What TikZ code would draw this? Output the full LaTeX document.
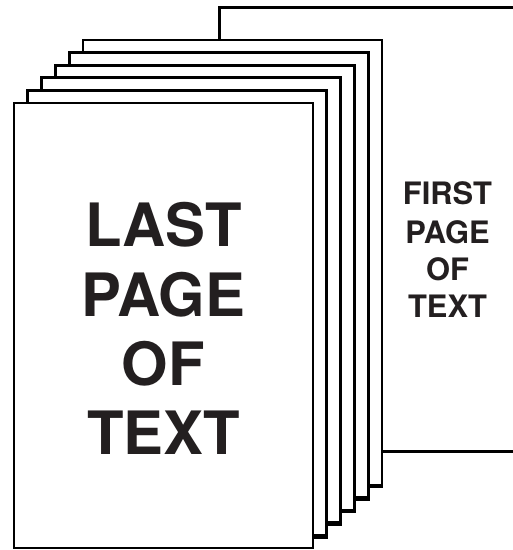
\documentclass[tikz,border=0pt]{standalone}
\usepackage{fontspec}
\setmainfont{TeX Gyre Heros}
\definecolor{ink}{HTML}{231F20}
\begin{document}
\begin{tikzpicture}[x=1bp,y=-1bp,
  pageedge/.style={draw=black,fill=white,line width=2.8bp,line join=miter},
  bigtxt/.style={font=\fontsize{60}{60}\selectfont\bfseries,text=ink,anchor=base,inner sep=0pt},
  smalltxt/.style={font=\fontsize{31}{31}\selectfont\bfseries,text=ink,anchor=base,inner sep=0pt}]
\useasboundingbox (0,0) rectangle (513,550);
\clip (0,0) rectangle (513,550);
% first page (behind)
\path[fill=white] (219,8) rectangle (530,451);
\draw[line width=3bp] (530,8) -- (219,8) -- (219,451) -- (530,451);
% stack of pages, back to front
\foreach \i in {5,4,3,2,1,0}{
  \pgfmathsetmacro{\xa}{14+13.8*\i}
  \pgfmathsetmacro{\ya}{103-12.6*\i}
  \pgfmathsetmacro{\xb}{\xa+299}
  \pgfmathsetmacro{\yb}{\ya+445}
  \draw[pageedge] (\xa,\ya) rectangle (\xb,\yb);
  \ifnum\i>0
    \draw[line width=4.5bp] (\xa,\yb+1) -- (\xb+1.4,\yb+1);
  \fi
}
% texts
\node[bigtxt] (l1) at (163.5,246) {LAST};
\node[bigtxt] (l2) at (163.5,316) {PAGE};
\node[bigtxt] (l3) at (163.5,385) {OF};
\node[bigtxt] (l4) at (163.5,454) {TEXT};
\node[smalltxt] (f1) at (447.5,205) {FIRST};
\node[smalltxt] (f2) at (447.5,243) {PAGE};
\node[smalltxt] (f3) at (447.5,280) {OF};
\node[smalltxt] (f4) at (447.5,317) {TEXT};
\end{tikzpicture}
\end{document}
